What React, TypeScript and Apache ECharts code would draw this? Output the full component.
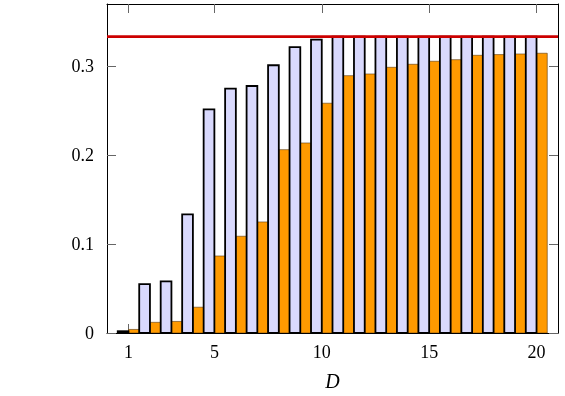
import React, { useEffect, useRef } from "react";
import * as echarts from "echarts";

const categories = [1, 2, 3, 4, 5, 6, 7, 8, 9, 10, 11, 12, 13, 14, 15, 16, 17, 18, 19, 20];
const lavenderValues = [0.002, 0.055, 0.058, 0.1335, 0.2516, 0.2748, 0.2778, 0.3011, 0.3214, 0.330, 0.3333, 0.3333, 0.3333, 0.3333, 0.3333, 0.3333, 0.3333, 0.3333, 0.3333, 0.3333];
const orangeValues = [0.004, 0.012, 0.013, 0.029, 0.0866, 0.1088, 0.1249, 0.2062, 0.2137, 0.2584, 0.2894, 0.2913, 0.2988, 0.3022, 0.3056, 0.3074, 0.3123, 0.3131, 0.3138, 0.3146];
const xTickValues = [1, 5, 10, 15, 20];
const yTickValues = [0, 0.1, 0.2, 0.3];
const referenceLine = 1 / 3;
const xRange = [0, 21];

const FONT = "Liberation Serif";

export default function App() {
  const ref = useRef<HTMLDivElement>(null);
  useEffect(() => {
    if (!ref.current) return;
    const chart = echarts.init(ref.current, undefined, { renderer: "svg" });

    const makeRender = (offset: number, fill: string, stroke: string, lw: number) =>
      (params: any, api: any) => {
        const x = api.value(0);
        const y = api.value(1);
        const p0 = api.coord([x + offset, y]);
        const p1 = api.coord([x + offset + 0.5, 0]);
        return {
          type: "rect",
          shape: { x: p0[0], y: p0[1], width: p1[0] - p0[0], height: p1[1] - p0[1] },
          style: { fill, stroke, lineWidth: lw },
        };
      };

    const tickStyle = { show: true, inside: true, length: 9, lineStyle: { color: "#666", width: 1 } };
    const lineStyle = { show: true, onZero: false, lineStyle: { color: "#000", width: 1 } };

    const xBase = {
      type: "value",
      min: xRange[0],
      max: xRange[1],
      splitLine: { show: false },
      axisLine: lineStyle,
      axisTick: { ...tickStyle, customValues: xTickValues },
    };
    const yBase = {
      type: "value",
      min: 0,
      max: 0.37,
      splitLine: { show: false },
      axisLine: lineStyle,
      axisTick: { ...tickStyle, customValues: yTickValues },
    };

    chart.setOption({
      animation: false,
      grid: { left: 107, right: 7, top: 4, bottom: 63 },
      xAxis: [
        {
          ...xBase,
          position: "bottom",
          name: "D",
          nameLocation: "middle",
          nameGap: 38,
          nameTextStyle: { fontFamily: FONT, fontStyle: "italic", fontSize: 20, color: "#000" },
          axisLabel: {
            customValues: xTickValues,
            margin: 10,
            fontFamily: FONT,
            fontSize: 18,
            color: "#000",
          },
        },
        { ...xBase, position: "top", axisLabel: { show: false } },
      ],
      yAxis: [
        {
          ...yBase,
          position: "left",
          axisLabel: {
            customValues: yTickValues,
            margin: 13,
            fontFamily: FONT,
            fontSize: 18,
            color: "#000",
            formatter: (v: number) => (v === 0 ? "0" : v.toFixed(1)),
          },
        },
        { ...yBase, position: "right", axisLabel: { show: false } },
      ],
      series: [
        {
          type: "custom",
          xAxisIndex: 0,
          yAxisIndex: 0,
          renderItem: makeRender(0, "#ff9a00", "#5a3a10", 0.6),
          data: categories.map((c, i) => [c, orangeValues[i]]),
          clip: true,
          z: 2,
        },
        {
          type: "custom",
          xAxisIndex: 0,
          yAxisIndex: 0,
          renderItem: makeRender(-0.5, "#d9d9fd", "#000", 1.8),
          data: categories.map((c, i) => [c, lavenderValues[i]]),
          clip: true,
          z: 3,
        },
        {
          type: "line",
          xAxisIndex: 0,
          yAxisIndex: 0,
          showSymbol: false,
          symbol: "none",
          silent: true,
          z: 5,
          lineStyle: { color: "#cc0000", width: 2.6 },
          data: [
            [xRange[0], referenceLine],
            [xRange[1], referenceLine],
          ],
        },
      ],
    });
    return () => chart.dispose();
  }, []);
  return <div ref={ref} style={{ position: "fixed", left: 0, top: 0, width: 565, height: 396 }} />;
}
